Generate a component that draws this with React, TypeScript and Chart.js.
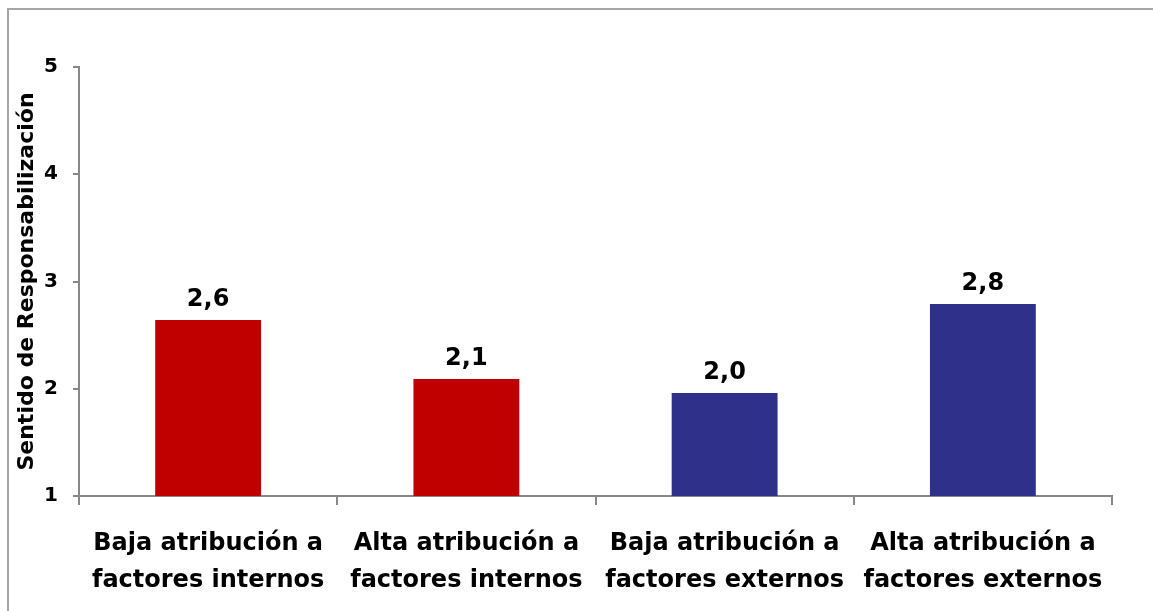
import React, { useEffect, useRef } from "react";
import { Chart, registerables } from "chart.js";

Chart.register(...registerables);

const categories: string[][] = [
  ["Baja atribución a", "factores internos"],
  ["Alta atribución a", "factores internos"],
  ["Baja atribución a", "factores externos"],
  ["Alta atribución a", "factores externos"],
];
const values: number[] = [2.64, 2.09, 1.96, 2.79];
const barColors: string[] = ["#C00000", "#C00000", "#2E3089", "#2E3089"];
const yTicks: number[] = [1, 2, 3, 4, 5];
const yTitle = "Sentido de Responsabilización";

const FONT = "'DejaVu Sans', sans-serif";

const frame = {
  id: "frame",
  beforeDraw(chart: any) {
    const ctx = chart.ctx;
    ctx.save();
    ctx.strokeStyle = "#a6a6a6";
    ctx.lineWidth = 2;
    ctx.beginPath();
    ctx.moveTo(8, chart.height + 5);
    ctx.lineTo(8, 9);
    ctx.lineTo(chart.width + 5, 9);
    ctx.stroke();
    ctx.restore();
  },
};

const valueLabels = {
  id: "valueLabels",
  afterDatasetsDraw(chart: any) {
    const ctx = chart.ctx;
    const meta = chart.getDatasetMeta(0);
    ctx.save();
    ctx.font = `bold 24px ${FONT}`;
    ctx.fillStyle = "#000000";
    ctx.textAlign = "center";
    ctx.textBaseline = "alphabetic";
    meta.data.forEach((bar: any, i: number) => {
      const v = values[i];
      ctx.fillText(v.toFixed(1).replace(".", ","), bar.x, bar.y - 14);
    });
    ctx.restore();
  },
};

export default function App() {
  const ref = useRef<HTMLCanvasElement | null>(null);
  useEffect(() => {
    if (!ref.current) return;
    const chart = new Chart(ref.current, {
      type: "bar",
      data: {
        labels: categories,
        datasets: [
          {
            data: values,
            backgroundColor: barColors,
            borderWidth: 0,
            barPercentage: 0.41,
            categoryPercentage: 1,
          },
        ],
      },
      options: {
        animation: false,
        responsive: false,
        layout: { padding: { top: 67, right: 41, left: 0, bottom: 0 } },
        plugins: {
          legend: { display: false },
          tooltip: { enabled: false },
        },
        scales: {
          x: {
            grid: {
              display: true,
              drawOnChartArea: false,
              drawTicks: true,
              tickLength: 9,
              color: "#888888",
              lineWidth: 2,
            },
            border: { color: "#888888", width: 2 },
            ticks: {
              color: "#000000",
              font: { family: FONT, size: 24, weight: "bold", lineHeight: 1.55 },
              padding: 20,
              maxRotation: 0,
              autoSkip: false,
            },
            afterFit(scale: any) {
              scale.height = 115;
            },
          },
          y: {
            min: 1,
            max: 5,
            afterBuildTicks(scale: any) {
              scale.ticks = yTicks.map((v) => ({ value: v }));
            },
            grid: {
              display: true,
              drawOnChartArea: false,
              drawTicks: true,
              tickLength: 6,
              color: "#888888",
              lineWidth: 2,
            },
            border: { color: "#888888", width: 2 },
            ticks: {
              color: "#000000",
              font: { family: FONT, size: 20, weight: "bold" },
              padding: 15,
            },
            title: {
              display: true,
              text: yTitle,
              color: "#000000",
              font: { family: FONT, size: 22, weight: "bold" },
              padding: { top: 14, bottom: 0 },
            },
            afterFit(scale: any) {
              scale.width = 79;
            },
          },
        },
      },
      plugins: [frame, valueLabels],
    });
    return () => chart.destroy();
  }, []);
  return (
    <canvas
      ref={ref}
      width={1153}
      height={611}
      style={{ position: "fixed", left: 0, top: 0, display: "block" }}
    />
  );
}
